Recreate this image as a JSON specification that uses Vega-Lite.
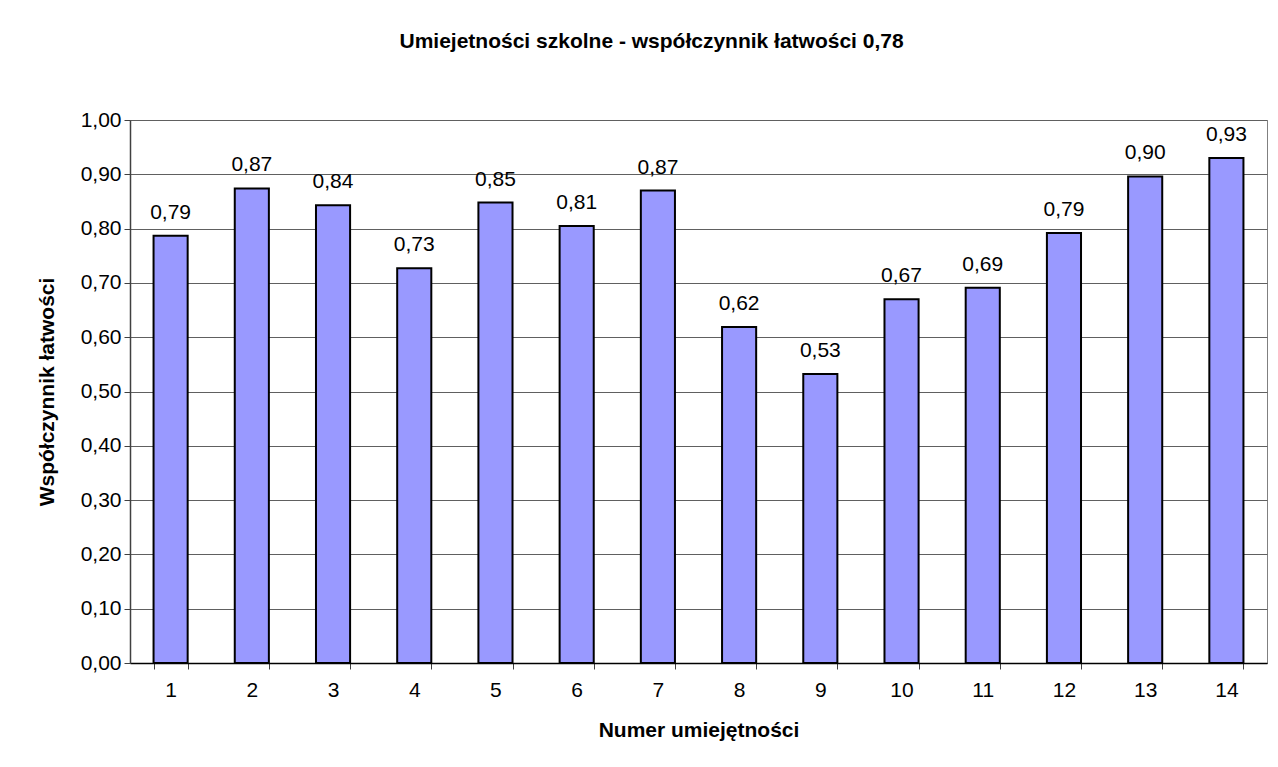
{
  "$schema": "https://vega.github.io/schema/vega-lite/v6.json",
  "width": 1137,
  "height": 543,
  "autosize": {"type": "none"},
  "padding": {"left": 130, "top": 120, "right": 11, "bottom": 104},
  "background": "white",
  "config": {
    "locale": {"number": {"decimal": ",", "thousands": " ", "grouping": [3], "currency": ["", " zł"]}},
    "font": "Liberation Sans",
    "view": {"stroke": "#808080", "strokeWidth": 1},
    "axis": {"labelFont": "Liberation Sans", "titleFont": "Liberation Sans", "labelColor": "black", "titleColor": "black"}
  },
  "title": {
    "text": "Umiejetności szkolne - współczynnik łatwości  0,78",
    "font": "Liberation Sans",
    "fontSize": 21,
    "fontWeight": "bold",
    "color": "black",
    "anchor": "middle",
    "frame": "bounds",
    "baseline": "alphabetic",
    "offset": 40
  },
  "data": {
    "values": [
      {"nr": 1, "wsp": 0.787},
      {"nr": 2, "wsp": 0.874},
      {"nr": 3, "wsp": 0.843},
      {"nr": 4, "wsp": 0.727},
      {"nr": 5, "wsp": 0.848},
      {"nr": 6, "wsp": 0.805},
      {"nr": 7, "wsp": 0.870},
      {"nr": 8, "wsp": 0.619},
      {"nr": 9, "wsp": 0.532},
      {"nr": 10, "wsp": 0.670},
      {"nr": 11, "wsp": 0.691},
      {"nr": 12, "wsp": 0.792},
      {"nr": 13, "wsp": 0.896},
      {"nr": 14, "wsp": 0.930}
    ]
  },
  "encoding": {
    "x": {
      "field": "nr",
      "type": "ordinal",
      "scale": {"paddingInner": 0.58, "paddingOuter": 0.29},
      "axis": {
        "title": "Numer umiejętności",
        "titleFontSize": 21,
        "titleFontWeight": "bold",
        "titlePadding": 19,
        "labelAngle": 0,
        "labelFontSize": 21,
        "labelPadding": 10,
        "tickBand": "extent",
        "tickSize": 6,
        "tickColor": "#404040",
        "domainColor": "black",
        "domainWidth": 1.5,
        "grid": false
      }
    },
    "y": {
      "field": "wsp",
      "type": "quantitative",
      "scale": {"domain": [0, 1], "nice": false},
      "axis": {
        "title": "Współczynnik łatwości",
        "titleFontSize": 21,
        "titleFontWeight": "bold",
        "titlePadding": 23,
        "values": [0, 0.1, 0.2, 0.3, 0.4, 0.5, 0.6, 0.7, 0.8, 0.9, 1.0],
        "format": ".2f",
        "labelFontSize": 21,
        "labelPadding": 3,
        "tickSize": 6,
        "tickColor": "#404040",
        "domainColor": "#404040",
        "domainWidth": 1.5,
        "grid": true,
        "gridColor": "#606060",
        "gridWidth": 1
      }
    }
  },
  "layer": [
    {
      "mark": {"type": "bar", "fill": "#9999FF", "stroke": "black", "strokeWidth": 2}
    },
    {
      "mark": {"type": "text", "fontSize": 21, "color": "black", "baseline": "alphabetic", "dy": -17},
      "encoding": {
        "text": {"field": "wsp", "type": "quantitative", "format": ".2f"}
      }
    }
  ]
}
